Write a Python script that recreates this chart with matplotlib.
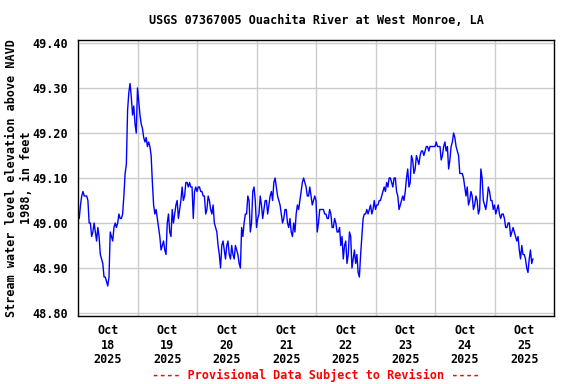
import matplotlib
matplotlib.use("Agg")
import matplotlib.pyplot as plt
import pandas as pd

title = "USGS 07367005 Ouachita River at West Monroe, LA"
ylabel = "Stream water level elevation above NAVD\n1988, in feet"
footer = "---- Provisional Data Subject to Revision ----"
start_time = "2025-10-18 00:00"

# half-hourly water level (ft), starting Oct 18 00:00
levels_oct18 = [
    49.02, 49.01, 49.04, 49.06, 49.07, 49.06, 49.06, 49.06, 49.05, 49.00, 49.00, 48.97,
    48.98, 49.00, 48.98, 48.96, 48.99, 48.97, 48.93, 48.92, 48.91, 48.88, 48.88, 48.87,
    48.86, 48.88, 48.98, 48.97, 48.96, 48.99, 49.00, 48.99, 49.00, 49.02, 49.01, 49.01,
    49.02, 49.06, 49.11, 49.13, 49.25, 49.29, 49.31, 49.28, 49.24, 49.26, 49.22, 49.20,
]
levels_oct19 = [
    49.30, 49.27, 49.24, 49.22, 49.21, 49.19, 49.18, 49.19, 49.17, 49.18, 49.17, 49.15,
    49.09, 49.04, 49.02, 49.03, 49.01, 48.99, 48.97, 48.94, 48.95, 48.96, 48.94, 48.93,
    49.00, 49.02, 48.98, 48.97, 49.03, 49.00, 49.02, 49.04, 49.05, 49.01, 49.03, 49.05,
    49.08, 49.05, 49.06, 49.09, 49.09, 49.08, 49.09, 49.08, 49.08, 49.01, 49.07, 49.08,
]
levels_oct20 = [
    49.07, 49.08, 49.08, 49.07, 49.07, 49.06, 49.06, 49.02, 49.03, 49.06, 49.05, 49.03,
    49.02, 49.04, 49.00, 48.99, 48.98, 48.95, 48.93, 48.90, 48.95, 48.96, 48.94, 48.92,
    48.95, 48.96, 48.93, 48.92, 48.95, 48.93, 48.92, 48.95, 48.94, 48.93, 48.91, 48.90,
    48.99, 48.97, 49.00, 49.02, 49.02, 49.06, 49.05, 48.98, 49.00, 49.07, 49.08, 49.05,
]
levels_oct21 = [
    48.99, 49.01, 49.02, 49.06, 49.04, 49.01, 49.03, 49.05, 49.05, 49.02, 49.04, 49.06,
    49.07, 49.05, 49.09, 49.10, 49.08, 49.06, 49.05, 49.04, 49.02, 49.00, 49.01, 49.03,
    49.03, 49.00, 48.99, 49.01, 48.98, 48.97, 49.00, 48.98, 49.02, 49.04, 49.03, 49.05,
    49.07, 49.09, 49.10, 49.09, 49.08, 49.06, 49.06, 49.08, 49.06, 49.04, 49.05, 49.06,
]
levels_oct22 = [
    49.05, 48.98, 49.00, 49.03, 49.03, 49.03, 49.03, 49.02, 49.02, 49.01, 49.01, 49.03,
    49.02, 48.99, 48.99, 49.01, 49.00, 48.98, 48.98, 48.99, 48.95, 48.97, 48.92, 48.95,
    48.96, 48.91, 48.93, 48.98, 48.97, 48.90, 48.92, 48.94, 48.91, 48.93, 48.89, 48.88,
    48.93, 48.97, 49.01, 49.02, 49.02, 49.03, 49.02, 49.03, 49.04, 49.02, 49.03, 49.05,
]
levels_oct23 = [
    49.03, 49.04, 49.04, 49.05, 49.05, 49.06, 49.07, 49.08, 49.07, 49.09, 49.08, 49.10,
    49.10, 49.09, 49.08, 49.10, 49.10, 49.07, 49.06, 49.03, 49.04, 49.05, 49.06, 49.05,
    49.07, 49.10, 49.12, 49.08, 49.09, 49.15, 49.14, 49.11, 49.12, 49.15, 49.14, 49.13,
    49.15, 49.16, 49.16, 49.15, 49.16, 49.17, 49.17, 49.16, 49.17, 49.17, 49.17, 49.17,
]
levels_oct24 = [
    49.17, 49.18, 49.17, 49.17, 49.17, 49.14, 49.15, 49.17, 49.18, 49.16, 49.17, 49.12,
    49.14, 49.17, 49.18, 49.20, 49.19, 49.17, 49.16, 49.15, 49.11, 49.11, 49.11, 49.10,
    49.08, 49.06, 49.08, 49.04, 49.05, 49.07, 49.06, 49.03, 49.04, 49.06, 49.05, 49.02,
    49.03, 49.12, 49.10, 49.05, 49.04, 49.03, 49.05, 49.08, 49.07, 49.05, 49.05, 49.03,
]
levels_oct25 = [
    49.04, 49.02, 49.03, 49.04, 49.02, 49.01, 49.02, 49.02, 49.01, 48.99, 48.99, 49.00,
    49.00, 48.97, 48.98, 48.99, 48.98, 48.97, 48.96, 48.97, 48.94, 48.92, 48.95, 48.93,
    48.93, 48.92, 48.90, 48.89, 48.92, 48.94, 48.91, 48.92,
]
levels = (levels_oct18 + levels_oct19 + levels_oct20 + levels_oct21 +
          levels_oct22 + levels_oct23 + levels_oct24 + levels_oct25)

yticks = [48.80, 48.90, 49.00, 49.10, 49.20, 49.30, 49.40]
day_labels = ["Oct\n18\n2025", "Oct\n19\n2025", "Oct\n20\n2025", "Oct\n21\n2025",
              "Oct\n22\n2025", "Oct\n23\n2025", "Oct\n24\n2025", "Oct\n25\n2025"]

times = pd.date_range(start_time, periods=len(levels), freq="30min")

font = "DejaVu Sans Mono"
fig = plt.figure(figsize=(5.76, 3.84), dpi=100)
ax = fig.add_axes([78/576, 1-316/384, (554-78)/576, (316-40)/384])

ax.plot(times, levels, color="#0000ff", linewidth=1.0)

t0 = pd.Timestamp(start_time)
ax.set_xlim(t0, t0 + pd.Timedelta(days=8))
ax.set_ylim(48.80 - 3/450, 49.40 + 3/450)

noons = [t0 + pd.Timedelta(days=i, hours=12) for i in range(8)]
mids = [t0 + pd.Timedelta(days=i) for i in range(1, 8)]
ax.set_xticks(noons)
ax.set_xticklabels(day_labels, fontfamily=font, fontweight="bold", fontsize=8.5,
                   linespacing=1.15)
ax.set_xticks(mids, minor=True)
ax.set_yticks(yticks)
ax.set_yticklabels([f"{v:.2f}" for v in yticks], fontfamily=font,
                   fontweight="bold", fontsize=8.5)
ax.tick_params(axis="both", which="both", length=0)
ax.tick_params(axis="x", pad=6)
ax.tick_params(axis="y", pad=7)

ax.grid(True, which="minor", axis="x", color="#cccccc", linewidth=1.0)
ax.grid(True, which="major", axis="y", color="#cccccc", linewidth=1.0)
ax.set_axisbelow(True)
for s in ax.spines.values():
    s.set_color("black")
    s.set_linewidth(1.0)

fig.text(316/576, 1-20/384, title, ha="center", va="center",
         fontfamily=font, fontweight="bold", fontsize=8.5)
fig.text(19/576, 1-178/384, ylabel, ha="center", va="center", rotation=90,
         fontfamily=font, fontweight="bold", fontsize=8.5, linespacing=1.1)
fig.text(316/576, 1-375/384, footer, ha="center", va="center", color="red",
         fontfamily=font, fontweight="bold", fontsize=8.5)

fig.savefig("out.png", dpi=100)
